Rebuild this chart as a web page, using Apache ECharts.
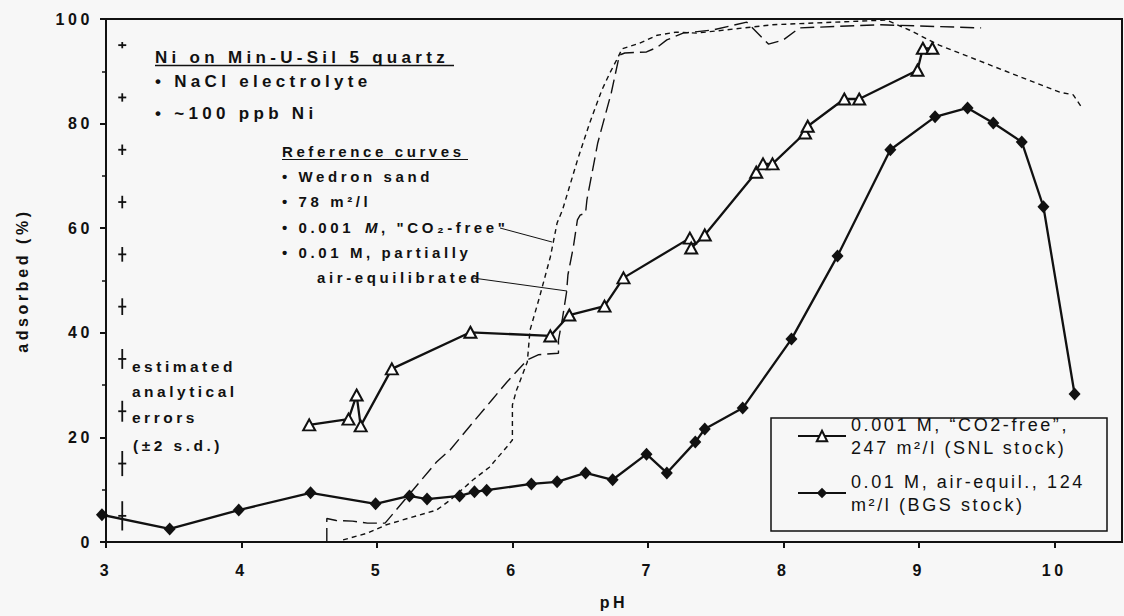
<!DOCTYPE html>
<html><head><meta charset="utf-8">
<script src="https://cdn.jsdelivr.net/npm/echarts@6/dist/echarts.min.js"></script>
<style>
html,body{margin:0;padding:0;background:#f7f7f7;}
#chart{width:1124px;height:616px;}
#chart text[style*="17px"]{letter-spacing:4.3px;}
#chart text[style*="16px"]{letter-spacing:3.6px;}
#chart text[style*="15px"]{letter-spacing:3.6px;}
#chart text[style*="15.5px"]{letter-spacing:3.5px;}
#chart text[style*="18px"]{letter-spacing:2.6px;}
</style></head><body><div id="chart"></div>
<script>
const FONT = '"Liberation Sans", Arial, Helvetica, sans-serif';
const phTicks = [3, 4, 5, 6, 7, 8, 9, 10];
const adsTicks = [0, 20, 40, 60, 80, 100];

const snlName = '0.001 M, “CO2-free”,\n247 m²/l (SNL stock)';
const bgsName = '0.01 M, air-equil., 124\nm²/l (BGS stock)';

const snlPH  = [4.50, 4.79, 4.85, 4.88, 5.11, 5.69, 6.28, 6.42, 6.68, 6.82, 7.31, 7.32, 7.42, 7.80, 7.85, 7.92, 8.16, 8.18, 8.45, 8.56, 8.99, 9.03, 9.10];
const snlAds = [22.4, 23.5, 28.1, 22.2, 33.1, 40.1, 39.4, 43.4, 45.1, 50.5, 58.1, 56.2, 58.7, 70.7, 72.3, 72.3, 78.2, 79.5, 84.7, 84.7, 90.2, 94.4, 94.4];

const bgsPH  = [2.97, 3.47, 3.98, 4.51, 4.99, 5.24, 5.37, 5.61, 5.72, 5.81, 6.14, 6.33, 6.54, 6.74, 6.99, 7.14, 7.35, 7.42, 7.70, 8.06, 8.40, 8.79, 9.12, 9.36, 9.55, 9.76, 9.92, 10.15];
const bgsAds = [5.2, 2.5, 6.1, 9.4, 7.3, 8.8, 8.2, 8.8, 9.6, 9.9, 11.1, 11.5, 13.2, 11.9, 16.8, 13.2, 19.1, 21.6, 25.6, 38.8, 54.7, 75.0, 81.3, 83.0, 80.1, 76.5, 64.1, 28.3];

// reference curves (Wedron sand)
const refAirPH  = [4.63, 4.63, 4.70, 4.82, 4.93, 5.06, 5.19, 5.44, 5.54, 5.71, 5.85, 5.96, 6.11, 6.19, 6.34, 6.34, 6.37, 6.40, 6.41, 6.45, 6.48, 6.50, 6.54, 6.55, 6.63, 6.73, 6.79, 6.83, 6.99, 7.07, 7.14, 7.26, 7.48, 7.73, 7.89, 8.00, 8.12, 8.71, 9.46];
const refAirAds = [0.0, 4.5, 4.1, 4.0, 3.6, 3.6, 7.6, 15.3, 17.6, 22.9, 27.2, 30.6, 34.8, 35.8, 36.1, 38.6, 42.8, 47.8, 51.1, 56.4, 61.6, 62.5, 62.9, 65.4, 76.3, 85.9, 93.1, 93.5, 93.7, 94.6, 96.0, 97.3, 97.9, 99.4, 95.2, 96.0, 98.3, 98.9, 98.3];

const refCO2PH  = [4.75, 4.93, 5.07, 5.24, 5.44, 5.54, 5.71, 5.83, 5.96, 6.00, 6.00, 6.03, 6.11, 6.13, 6.20, 6.28, 6.33, 6.37, 6.48, 6.57, 6.66, 6.72, 6.78, 6.81, 6.94, 7.07, 7.21, 7.36, 7.92, 8.76, 8.93, 9.15, 10.04, 10.14, 10.20];
const refCO2Ads = [0.4, 1.7, 3.3, 4.6, 6.1, 8.0, 11.9, 14.3, 18.2, 19.5, 26.2, 29.0, 34.4, 40.5, 46.8, 54.5, 61.0, 63.5, 73.0, 80.1, 86.4, 89.7, 92.7, 94.3, 95.4, 96.9, 97.5, 97.3, 98.9, 99.8, 97.9, 95.0, 86.0, 85.5, 83.2];

// estimated analytical errors (±2 s.d.)
const errPH = 3.12;
const errCenters = [95, 85, 75, 65, 55, 45, 35, 25, 15, 5];
const errHalf = [0.6, 0.8, 1.0, 1.2, 1.4, 1.6, 1.9, 2.0, 2.4, 2.8];

const zip = (xs, ys) => xs.map((x, i) => [x, ys[i]]);
const INK = '#111';

const chart = echarts.init(document.getElementById('chart'), null, {renderer: 'svg'});

function txt(text, x, y, size, weight, style) {
  return {
    type: 'text', x: x, y: y, z: 50,
    style: Object.assign({text: text, fill: INK, fontSize: size, fontWeight: weight, fontFamily: FONT, align: 'left', verticalAlign: 'middle'}, style || {})
  };
}
function ln(x1, y1, x2, y2, w) {
  return {type: 'line', z: 50, shape: {x1: x1, y1: y1, x2: x2, y2: y2}, style: {stroke: INK, lineWidth: w || 1}};
}

const legendBase = {
  left: 797, padding: 0, orient: 'vertical', itemWidth: 48, itemHeight: 13, itemGap: 0,
  selectedMode: false,
  textStyle: {fontSize: 18, fontFamily: FONT, color: INK, lineHeight: 23, padding: [23, 0, 0, 0]}
};

chart.setOption({
  backgroundColor: '#f7f7f7',
  animation: false,
  grid: {left: 106, right: 2, top: 19, bottom: 74, show: true, borderColor: INK, borderWidth: 2, backgroundColor: 'transparent'},
  xAxis: {
    type: 'value', min: 3, max: 10.5, interval: 1,
    name: 'pH', nameLocation: 'middle', nameGap: 52,
    nameTextStyle: {fontSize: 16, fontWeight: 'bold', fontFamily: FONT, color: INK},
    axisLine: {show: true, lineStyle: {color: INK, width: 2}},
    axisTick: {show: true, length: 6, lineStyle: {color: INK, width: 2}, customValues: phTicks},
    axisLabel: {margin: 20, fontSize: 16, fontWeight: 'bold', fontFamily: FONT, color: INK, customValues: phTicks},
    splitLine: {show: false}
  },
  yAxis: {
    type: 'value', min: 0, max: 100, interval: 20,
    name: 'adsorbed (%)', nameLocation: 'middle', nameGap: 76,
    nameTextStyle: {fontSize: 16, fontWeight: 'bold', fontFamily: FONT, color: INK},
    axisLine: {show: true, lineStyle: {color: INK, width: 2}},
    axisTick: {show: true, length: 6, lineStyle: {color: INK, width: 2}},
    minorTick: {show: true, splitNumber: 2, length: 4, lineStyle: {color: INK, width: 1.5}},
    axisLabel: {margin: 13, fontSize: 16, fontWeight: 'bold', fontFamily: FONT, color: INK,
      customValues: adsTicks},
    splitLine: {show: false}
  },
  legend: [
    Object.assign({}, legendBase, {data: [snlName], top: 401.5}),
    Object.assign({}, legendBase, {data: [bgsName], top: 458.5})
  ],
  series: [
    {
      name: '0.01 M, partially air-equilibrated (Wedron sand)', type: 'line', data: zip(refAirPH, refAirAds),
      symbol: 'none', silent: true, z: 1,
      lineStyle: {color: INK, width: 1.4, type: [14, 6]}
    },
    {
      name: '0.001 M, "CO2-free" (Wedron sand)', type: 'line', data: zip(refCO2PH, refCO2Ads),
      symbol: 'none', silent: true, z: 1,
      lineStyle: {color: INK, width: 1.4, type: [5, 4]}
    },
    {
      name: snlName, type: 'line', data: zip(snlPH, snlAds), z: 3,
      symbol: 'emptyTriangle', symbolSize: [12, 11],
      lineStyle: {color: INK, width: 2.3}, itemStyle: {color: INK, borderWidth: 2}
    },
    {
      name: bgsName, type: 'line', data: zip(bgsPH, bgsAds), z: 3, clip: false,
      symbol: 'diamond', symbolSize: [12, 13],
      lineStyle: {color: INK, width: 2.3}, itemStyle: {color: INK}
    },
    {
      name: 'estimated analytical errors', type: 'custom', silent: true, z: 4,
      data: errCenters.map((c, i) => [errPH, c, errHalf[i]]),
      encode: {x: 0, y: 1},
      renderItem: function (params, api) {
        const x = api.value(0), y = api.value(1), h = api.value(2);
        const t = api.coord([x, y + h]), b = api.coord([x, y - h]), m = api.coord([x, y]);
        return {type: 'group', children: [
          {type: 'line', shape: {x1: t[0], y1: t[1], x2: b[0], y2: b[1]}, style: {stroke: INK, lineWidth: 1.8}},
          {type: 'line', shape: {x1: m[0] - 4, y1: m[1], x2: m[0] + 4, y2: m[1]}, style: {stroke: INK, lineWidth: 1.8}}
        ]};
      }
    }
  ],
  graphic: [
    txt('Ni on Min-U-Sil 5 quartz', 155, 57.5, 17, 'bold'),
    ln(155, 65.5, 454, 65.5, 1.5),
    txt('• NaCl electrolyte', 155, 81, 17, 'bold'),
    txt('• ~100 ppb Ni', 155, 113, 17, 'bold'),
    txt('Reference curves', 282, 151.5, 15, 'bold'),
    ln(282, 159.5, 468, 159.5, 1.2),
    txt('• Wedron sand', 282, 176.5, 15, 'bold'),
    txt('• 78 m²/l', 282, 201.5, 15, 'bold'),
    txt('• 0.001 ', 282, 227, 15, 'bold'),
    txt('M', 365, 227, 15, 'bold', {fontStyle: 'italic'}),
    txt(', "CO₂-free"', 381, 227, 15, 'bold'),
    ln(500, 228, 552, 242, 1),
    txt('• 0.01 M, partially', 282, 252.5, 15, 'bold'),
    txt('air-equilibrated', 317, 277.5, 15, 'bold'),
    ln(473, 278, 567, 291, 1),
    txt('estimated', 132, 366, 15.5, 'bold'),
    txt('analytical', 132, 391, 15.5, 'bold'),
    txt('errors', 132, 417, 15.5, 'bold'),
    txt('(±2 s.d.)', 133, 445, 15.5, 'bold'),
    {type: 'rect', z: 40, shape: {x: 771, y: 418, width: 336, height: 113}, style: {fill: null, stroke: INK, lineWidth: 1.5}}
  ]
});
</script></body></html>
